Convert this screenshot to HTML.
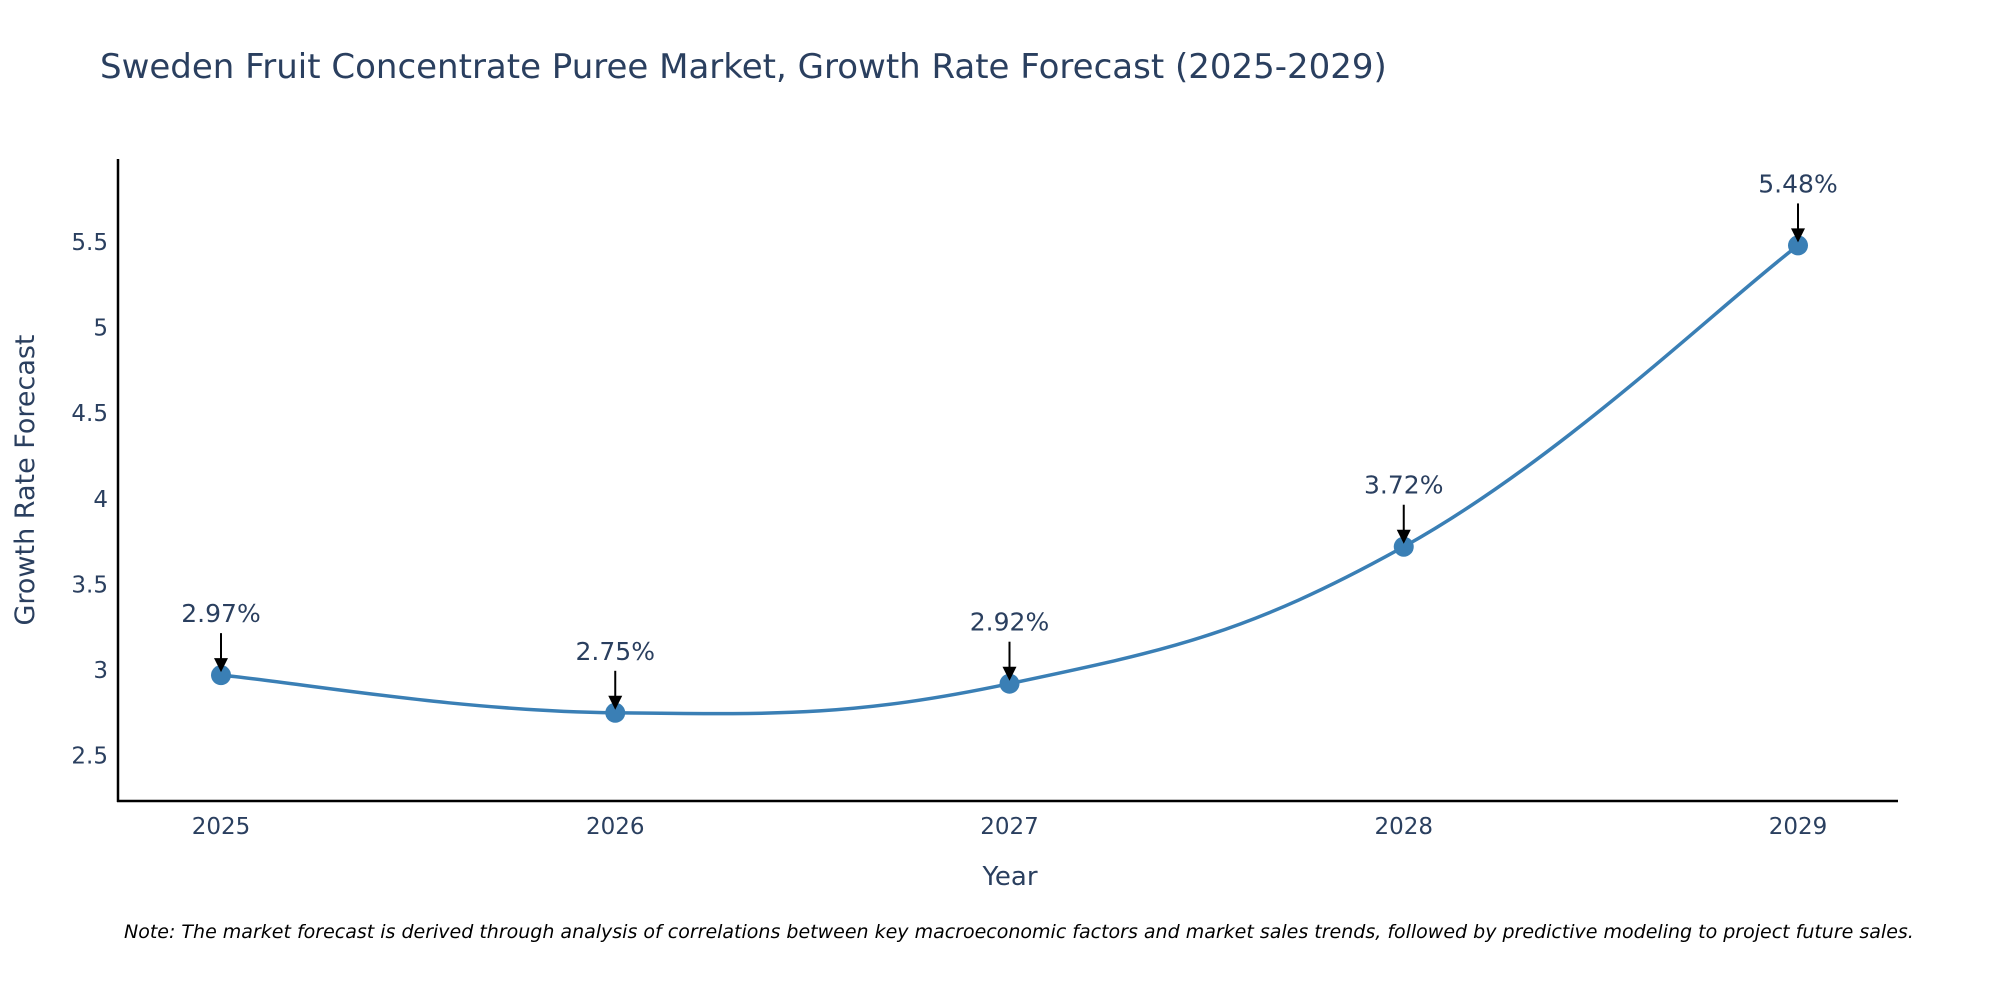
<!DOCTYPE html>
<html><head><meta charset="utf-8"><style>
body{margin:0;background:#fff;}
svg{display:block;font-family:"DejaVu Sans","Liberation Sans",sans-serif;}
</style></head><body>
<svg id="chart" width="2000" height="1000" viewBox="0 0 2000 1000">
<text x="100" y="78" font-size="34" fill="#2a3f5f">Sweden Fruit Concentrate Puree Market, Growth Rate Forecast (2025-2029)</text>
<g id="yticks"></g>
<g id="xticks"></g>
<path id="line" fill="none" stroke="#3a7fb5" stroke-width="3.5"/>
<g id="marks"></g>
<g id="ann"></g>
<line x1="118" y1="159" x2="118" y2="802" stroke="#000" stroke-width="2.5"/>
<line x1="117" y1="801" x2="1898" y2="801" stroke="#000" stroke-width="2.5"/>
<text x="1010" y="885" font-size="26" fill="#2a3f5f" text-anchor="middle">Year</text>
<text transform="translate(34,480) rotate(-90)" font-size="27" fill="#2a3f5f" text-anchor="middle">Growth Rate Forecast</text>
<text x="124" y="938" font-size="19" font-style="italic" fill="#000">Note: The market forecast is derived through analysis of correlations between key macroeconomic factors and market sales trends, followed by predictive modeling to project future sales.</text>
</svg>
<script>
const years=["2025","2026","2027","2028","2029"];
const values=[2.97,2.75,2.92,3.72,5.48];
const labels=["2.97%","2.75%","2.92%","3.72%","5.48%"];
const yTicks=[2.5,3,3.5,4,4.5,5,5.5];
const yTickLabels=["2.5","3","3.5","4","4.5","5","5.5"];
const NS="http://www.w3.org/2000/svg";
function xScale(i){return 221+i*394.25;}
function yScale(v){return 670-(v-3)*171.2;}
function mk(tag,attrs,parent){const e=document.createElementNS(NS,tag);for(const k in attrs)e.setAttribute(k,attrs[k]);parent.appendChild(e);return e;}
const yt=document.getElementById('yticks');
yTicks.forEach((v,i)=>{const t=mk('text',{x:108,y:yScale(v)+8,'font-size':23,fill:'#2a3f5f','text-anchor':'end'},yt);


t.textContent=yTickLabels[i];});
const xt=document.getElementById('xticks');
years.forEach((y,i)=>{const t=mk('text',{x:xScale(i),y:834,'font-size':23,fill:'#2a3f5f','text-anchor':'middle'},xt);


t.textContent=y;});
const pts=values.map((v,i)=>[xScale(i),yScale(v)]);
let d='M'+pts[0][0]+','+pts[0][1];
const s=0.2;
for(let i=0;i<pts.length-1;i++){const p0=pts[Math.max(i-1,0)],p1=pts[i],p2=pts[i+1],p3=pts[Math.min(i+2,pts.length-1)];
const c1=[p1[0]+(p2[0]-p0[0])*s,p1[1]+(p2[1]-p0[1])*s];const c2=[p2[0]-(p3[0]-p1[0])*s,p2[1]-(p3[1]-p1[1])*s];
d+=' C'+c1+' '+c2+' '+p2;}
document.getElementById('line').setAttribute('d',d);
const mg=document.getElementById('marks'),ag=document.getElementById('ann');
pts.forEach((p,i)=>{const c=mk('circle',{cx:p[0],cy:p[1],r:10,fill:'#3a7fb5'},mg);


const l=mk('line',{x1:p[0],y1:p[1]-42,x2:p[0],y2:p[1]-16,stroke:'#000','stroke-width':2},ag);


const h=mk('path',{d:`M${p[0]-7},${p[1]-17} L${p[0]+7},${p[1]-17} L${p[0]},${p[1]-3} Z`,fill:'#000'},ag);


const t=mk('text',{x:p[0],y:p[1]-53,'font-size':25,fill:'#2a3f5f','text-anchor':'middle'},ag);


t.textContent=labels[i];});
</script>
</body></html>
